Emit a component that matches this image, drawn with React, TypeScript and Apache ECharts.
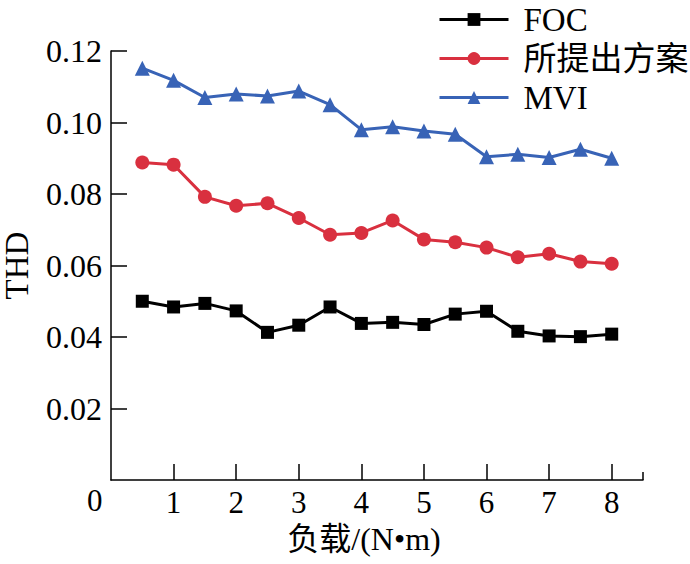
import React, { useEffect, useRef } from "react";
import * as echarts from "echarts";

const loads = [0.5, 1, 1.5, 2, 2.5, 3, 3.5, 4, 4.5, 5, 5.5, 6, 6.5, 7, 7.5, 8];
const focValues = [0.05, 0.0484, 0.0494, 0.0473, 0.0413, 0.0433, 0.0484, 0.0438, 0.0441, 0.0435, 0.0464, 0.0472, 0.0416, 0.0403, 0.0401, 0.0408];
const proposedValues = [0.0888, 0.0882, 0.0792, 0.0767, 0.0774, 0.0733, 0.0686, 0.0691, 0.0726, 0.0673, 0.0665, 0.065, 0.0623, 0.0633, 0.0611, 0.0605];
const mviValues = [0.1152, 0.1118, 0.107, 0.108, 0.1074, 0.1088, 0.105, 0.098, 0.0988, 0.0976, 0.0967, 0.0904, 0.0911, 0.0902, 0.0925, 0.09];
const seriesNames = ["FOC", "所提出方案", "MVI"];
const xTicks = [1, 2, 3, 4, 5, 6, 7, 8];
const yTicks = [0.02, 0.04, 0.06, 0.08, 0.1, 0.12];
const xName = "负载/(N•m)";
const yName = "THD";

const FONT = "'Liberation Serif', 'Noto Sans CJK SC', serif";

export default function App() {
  const ref = useRef<HTMLDivElement>(null);
  useEffect(() => {
    document.body.style.margin = "0";
    const chart = echarts.init(ref.current!, null, { renderer: "svg" });
    const toPairs = (vals: number[]) => loads.map((x, i) => [x, vals[i]]);
    chart.setOption({
      animation: false,
      backgroundColor: "#fff",
      textStyle: { fontFamily: FONT, color: "#000" },
      grid: { left: 111, right: 47, top: 51, bottom: 84, outerBoundsMode: "none", containLabel: false },
      legend: {
        orient: "vertical",
        left: 433,
        top: -5,
        itemWidth: 69,
        itemHeight: 16,
        itemGap: 0,
        data: seriesNames,
        lineStyle: { width: 3 },
        textStyle: {
          fontFamily: FONT,
          fontSize: 33,
          color: "#000",
          lineHeight: 39,
          padding: [0, 0, 0, 10],
        },
      },
      xAxis: [
        {
          type: "value",
          min: 0,
          max: 8.5,
          interval: 1,
          name: xName,
          nameLocation: "middle",
          nameGap: 42,
          nameTextStyle: { fontFamily: FONT, fontSize: 32, color: "#000", padding: [0, 26, 0, 0] },
          splitLine: { show: false },
          axisLine: { show: true, lineStyle: { color: "#000", width: 1.5 } },
          axisTick: { show: true, inside: true, length: 16, customValues: xTicks, lineStyle: { color: "#000", width: 1.5 } },
          axisLabel: { customValues: xTicks, fontFamily: FONT, fontSize: 31, color: "#000", margin: 7 },
        },
        {
          type: "value",
          min: 0,
          max: 8.5,
          position: "bottom",
          splitLine: { show: false },
          axisLine: { show: false },
          axisLabel: { show: false },
          axisTick: { show: true, inside: true, length: 8, customValues: [8.5], lineStyle: { color: "#000", width: 1.5 } },
        },
      ],
      yAxis: {
        type: "value",
        min: 0,
        max: 0.12,
        interval: 0.02,
        name: yName,
        nameLocation: "middle",
        nameGap: 78,
        nameTextStyle: { fontFamily: FONT, fontSize: 33, color: "#000" },
        splitLine: { show: false },
        axisLine: { show: true, lineStyle: { color: "#000", width: 1.5 } },
        axisTick: { show: true, inside: true, length: 16, customValues: yTicks, lineStyle: { color: "#000", width: 1.5 } },
        axisLabel: {
          customValues: yTicks,
          fontFamily: FONT,
          fontSize: 32,
          color: "#000",
          margin: 9,
          formatter: (v: number) => v.toFixed(2),
        },
      },
      graphic: [
        {
          type: "text",
          left: 87,
          top: 485,
          style: { text: "0", font: `31px ${FONT}`, fill: "#000" },
        },
      ],
      series: [
        {
          name: seriesNames[0],
          type: "line",
          data: toPairs(focValues),
          symbol: "rect",
          symbolSize: 13,
          color: "#000000",
          lineStyle: { width: 3, color: "#000000" },
          itemStyle: { color: "#000000" },
        },
        {
          name: seriesNames[1],
          type: "line",
          data: toPairs(proposedValues),
          symbol: "circle",
          symbolSize: 14,
          color: "#d9303f",
          lineStyle: { width: 3, color: "#d9303f" },
          itemStyle: { color: "#d9303f" },
        },
        {
          name: seriesNames[2],
          type: "line",
          data: toPairs(mviValues),
          symbol: "triangle",
          symbolSize: 15,
          color: "#3863b6",
          lineStyle: { width: 3, color: "#3863b6" },
          itemStyle: { color: "#3863b6" },
        },
      ],
    });
    return () => chart.dispose();
  }, []);
  return <div ref={ref} style={{ width: 690, height: 564 }} />;
}
